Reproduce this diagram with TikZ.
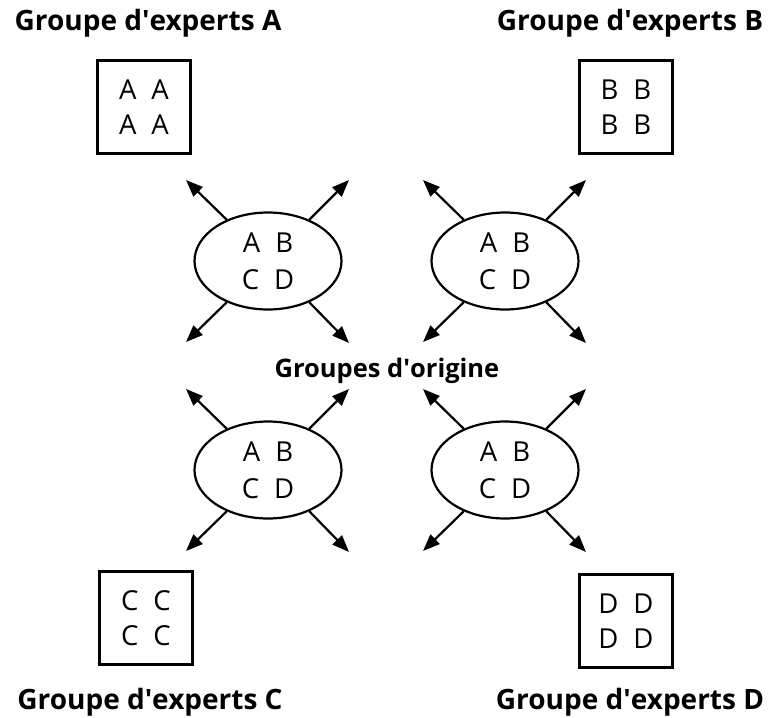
\documentclass[tikz,border=0pt]{standalone}
\usepackage{fontspec}
\setmainfont{Open Sans}
\usetikzlibrary{shapes.geometric,arrows.meta,calc}
\newcommand{\apos}{\textquotesingle}
\begin{document}
\begin{tikzpicture}[x=1pt,y=-1pt,
  box/.style={draw, line width=2.4pt, minimum size=93pt, inner sep=0pt, align=center,
    font=\fontsize{27.5}{35}\selectfont},
  orig/.style={draw, ellipse, line width=2.2pt, minimum width=147pt, minimum height=97pt,
    inner sep=0pt, align=center, font=\fontsize{27.5}{37}\selectfont},
  arr/.style={line width=2.2pt, -{Triangle[length=17pt,width=13pt]}},
  title/.style={font=\bfseries\fontsize{28}{30}\selectfont, anchor=base, inner sep=0pt},
  otitle/.style={font=\bfseries\fontsize{25.5}{30}\selectfont, anchor=base, inner sep=0pt}]
\useasboundingbox (0,0) rectangle (773,717);
% expert boxes
\node[box] (bA) at (144,107) {A\hspace{15pt}A\\A\hspace{15pt}A};
\node[box] (bB) at (626,107) {B\hspace{15pt}B\\B\hspace{15pt}B};
\node[box] (bC) at (146,618) {C\hspace{15pt}C\\C\hspace{15pt}C};
\node[box] (bD) at (626,621) {D\hspace{15pt}D\\D\hspace{15pt}D};
% titles
\node[title] (tA) at (148,31) {Groupe d\apos experts A};
\node[title] (tB) at (630,31) {Groupe d\apos experts B};
\node[title] (tC) at (150,709) {Groupe d\apos experts C};
\node[title] (tD) at (630,709) {Groupe d\apos experts D};
\node[otitle] (tO) at (387,377) {Groupes d\apos origine};
% home groups
\foreach \n/\x/\y in {e1/268/261, e2/505/261, e3/268/470, e4/505/470}{
  \node[orig] (\n) at (\x,\y) {A\hspace{15pt}B\\C\hspace{15pt}D};
  \coordinate (\n-nw) at (\x-82,\y-81);
  \coordinate (\n-ne) at (\x+81,\y-81);
  \coordinate (\n-sw) at (\x-82,\y+81);
  \coordinate (\n-se) at (\x+81,\y+82);
  \draw[arr] (\n.135) -- (\n-nw);
  \draw[arr] (\n.45) -- (\n-ne);
  \draw[arr] (\n.225) -- (\n-sw);
  \draw[arr] (\n.315) -- (\n-se);
}
\end{tikzpicture}
\end{document}
